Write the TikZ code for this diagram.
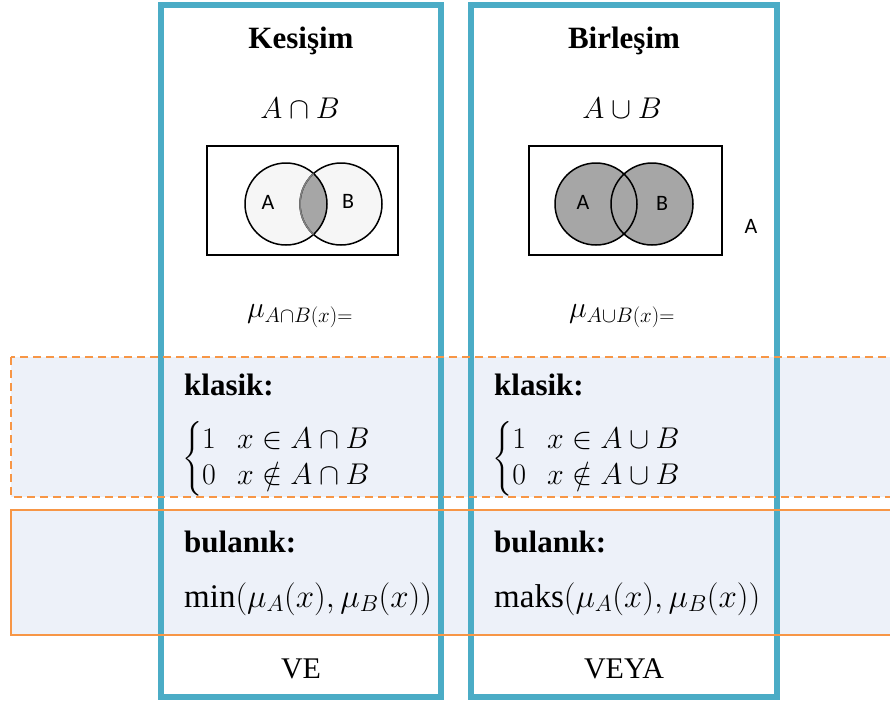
\RequirePackage{fix-cm}
\documentclass[tikz,border=0pt]{standalone}
\usepackage{amsmath}
\usepackage{fontspec}
\setmainfont{Liberation Serif}
\newfontfamily\vennfont{Carlito}
\usetikzlibrary{positioning}

\definecolor{colblue}{RGB}{75,172,198}
\definecolor{bandorange}{RGB}{247,150,70}
\definecolor{bandfill}{RGB}{237,241,249}
\definecolor{vennlight}{RGB}{246,246,246}
\definecolor{venndark}{RGB}{166,166,166}

\tikzset{
  colbox/.style={draw=colblue, line width=6pt},
  bandbox/.style={draw=bandorange, line width=2pt},
  heading/.style={font=\fontsize{31}{36}\selectfont\bfseries, inner sep=0pt},
  plaintext/.style={font=\fontsize{30}{36}\selectfont, inner sep=0pt},
  fuzzytext/.style={font=\fontsize{33}{38}\selectfont, inner sep=0pt},
  setname/.style={font=\vennfont\fontsize{22}{26}\selectfont, inner sep=0pt},
}

\begin{document}
\begin{tikzpicture}[x=1pt,y=-1pt]
    \useasboundingbox (0,0) rectangle (890,702);

    % Bands (fill first)
    \fill[bandfill] (11,357) rectangle (900,497);
    \fill[bandfill] (11,510) rectangle (900,635);

    % Columns
    \draw[colbox] (161,5) rectangle (441,697);
    \draw[colbox] (471,5) rectangle (777,697);

    % Band outlines
    \draw[bandbox,dash pattern=on 8pt off 5pt] (11,357) rectangle (900,497);
    \draw[bandbox] (11,510) rectangle (900,635);

    % Intersection column
    \node[heading,anchor=base] (kesTitle) at (301,48) {Kesişim};
    \node[plaintext,anchor=base] (kesSet) at (300,118) {$A\cap B$};

    \draw[line width=1.2pt] (207,146) rectangle (398,255);
    \fill[vennlight] (286,204) circle[radius=41pt];
    \fill[vennlight] (341,204) circle[radius=41pt];
    \begin{scope}
        \clip (286,204) circle[radius=41pt];
        \fill[venndark] (341,204) circle[radius=41pt];
    \end{scope}
    \draw[line width=1.5pt] (286,204) circle[radius=41pt];
    \draw[line width=1.5pt] (341,204) circle[radius=41pt];
    \begin{scope}
        \clip (286,204) circle[radius=41pt];
        \draw[gray,line width=1.5pt] (341,204) circle[radius=41pt];
    \end{scope}
    \node[setname] (kesA) at (268,202) {A};
    \node[setname] (kesB) at (348,201) {B};

    \node[plaintext] (kesMu) at (300,316) {$\mu_{A\cap B(x)=}$};

    \node[heading,anchor=base west] (kesKlasik) at (184,395) {klasik:};
    \node[plaintext,anchor=west] (kesCases) at (182,459)
        {$\renewcommand{\arraystretch}{1}\left\{\begin{array}{@{}l@{\hspace{0.7em}}l@{}}1 & x\in A\cap B\\ 0 & x\notin A\cap B\end{array}\right.$};
    \node[heading,anchor=base west] (kesBulanik) at (184,552) {bulanık:};
    \node[fuzzytext,anchor=base west] (kesMin) at (184,607) {min$(\mu_A(x),\mu_B(x))$};
    \node[plaintext,anchor=base] (kesVe) at (301,678) {VE};

    % Union column
    \node[heading,anchor=base] (birTitle) at (624,48) {Birleşim};
    \node[plaintext,anchor=base] (birSet) at (622,118) {$A\cup B$};

    \draw[line width=1.2pt] (529,146) rectangle (722,255);
    \fill[venndark] (596,204) circle[radius=41pt];
    \fill[venndark] (652,204) circle[radius=41pt];
    \draw[line width=1.5pt] (596,204) circle[radius=41pt];
    \draw[line width=1.5pt] (652,204) circle[radius=41pt];
    \node[setname] (birA) at (583,202) {A};
    \node[setname] (birB) at (662,203) {B};
    \node[setname] (outA) at (751,226) {A};

    \node[plaintext] (birMu) at (622,316) {$\mu_{A\cup B(x)=}$};

    \node[heading,anchor=base west] (birKlasik) at (494,395) {klasik:};
    \node[plaintext,anchor=west] (birCases) at (492,459)
        {$\renewcommand{\arraystretch}{1}\left\{\begin{array}{@{}l@{\hspace{0.7em}}l@{}}1 & x\in A\cup B\\ 0 & x\notin A\cup B\end{array}\right.$};
    \node[heading,anchor=base west] (birBulanik) at (494,552) {bulanık:};
    \node[fuzzytext,anchor=base west] (birMaks) at (494,607) {maks$(\mu_A(x),\mu_B(x))$};
    \node[plaintext,anchor=base] (birVeya) at (624,678) {VEYA};
\end{tikzpicture}
\end{document}
